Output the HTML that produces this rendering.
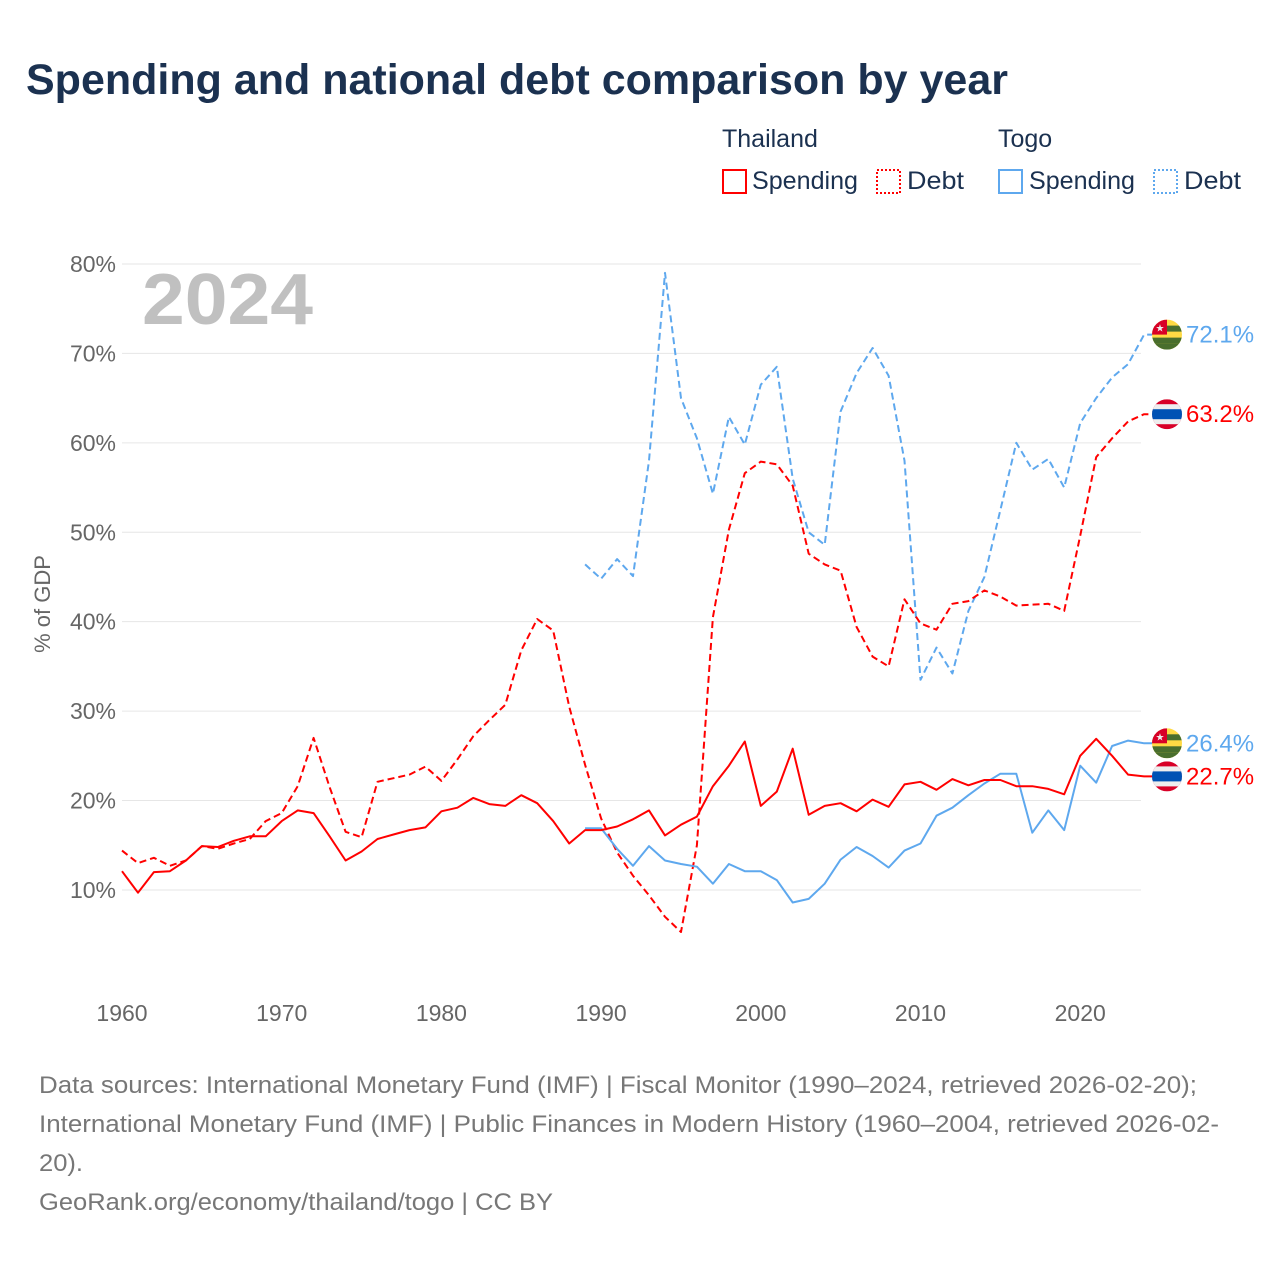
<!DOCTYPE html>
<html><head><meta charset="utf-8">
<style>
body{margin:0;background:#fff;font-family:"Liberation Sans",sans-serif;}
svg text{font-family:"Liberation Sans",sans-serif;}
</style></head>
<body>
<svg width="1280" height="1280" viewBox="0 0 1280 1280" xmlns="http://www.w3.org/2000/svg">
<text x="26" y="94" font-size="43" font-weight="bold" fill="#1b3150" textLength="982" lengthAdjust="spacingAndGlyphs">Spending and national debt comparison by year</text>
<g font-size="25" fill="#1b3150">
 <text x="722" y="147">Thailand</text>
 <text x="998" y="147">Togo</text>
 <g><rect x="723" y="170" width="23" height="23" fill="none" stroke="#ff0000" stroke-width="2"/><text x="752" y="189" textLength="106" lengthAdjust="spacingAndGlyphs">Spending</text></g>
 <g><rect x="877" y="170" width="23" height="23" fill="none" stroke="#ff0000" stroke-width="2" stroke-dasharray="2,2"/><text x="907" y="189" textLength="57" lengthAdjust="spacingAndGlyphs">Debt</text></g>
 <g><rect x="999" y="170" width="23" height="23" fill="none" stroke="#5ea8ee" stroke-width="2"/><text x="1029" y="189" textLength="106" lengthAdjust="spacingAndGlyphs">Spending</text></g>
 <g><rect x="1154" y="170" width="23" height="23" fill="none" stroke="#5ea8ee" stroke-width="2" stroke-dasharray="2,2"/><text x="1184" y="189" textLength="57" lengthAdjust="spacingAndGlyphs">Debt</text></g>
</g>
<text x="142" y="324" font-size="72" font-weight="bold" fill="#c0c0c0" textLength="171" lengthAdjust="spacingAndGlyphs">2024</text>
<text transform="translate(50,604) rotate(-90)" text-anchor="middle" font-size="22" fill="#666">% of GDP</text>
<g id="grid"></g><g id="xticks"></g><g id="series"></g><g id="ends"></g>
<g font-size="24" fill="#777">
<text x="39" y="1093" textLength="1158" lengthAdjust="spacingAndGlyphs">Data sources: International Monetary Fund (IMF) | Fiscal Monitor (1990–2024, retrieved 2026-02-20);</text>
<text x="39" y="1132" textLength="1180" lengthAdjust="spacingAndGlyphs">International Monetary Fund (IMF) | Public Finances in Modern History (1960–2004, retrieved 2026-02-</text>
<text x="39" y="1171" textLength="44" lengthAdjust="spacingAndGlyphs">20).</text>
<text x="39" y="1210" textLength="514" lengthAdjust="spacingAndGlyphs">GeoRank.org/economy/thailand/togo | CC BY</text>
</g>
</svg>
<script>
const yTicks=[10,20,30,40,50,60,70,80];
const xTicks=[1960,1970,1980,1990,2000,2010,2020];
const thSpendStart=1960;
const thSpending=[12.1,9.7,12,12.1,13.3,14.9,14.8,15.5,16,16,17.7,18.9,18.6,16,13.3,14.3,15.7,16.2,16.7,17,18.8,19.2,20.3,19.6,19.4,20.6,19.7,17.7,15.2,16.7,16.7,17.1,17.9,18.9,16.1,17.3,18.2,21.6,23.9,26.6,19.4,21,25.8,18.4,19.4,19.7,18.8,20.1,19.3,21.8,22.1,21.2,22.4,21.7,22.3,22.3,21.6,21.6,21.3,20.7,25,26.9,25,22.9,22.7];
const thDebt=[14.4,13,13.6,12.7,13.3,14.9,14.6,15.2,15.7,17.7,18.6,21.6,27,21.5,16.5,15.9,22.1,22.5,22.9,23.8,22.2,24.6,27.2,29,30.7,36.8,40.3,39,30.5,24,18,14.2,11.6,9.4,7,5.3,15,40.5,50.3,56.6,57.9,57.6,55.2,47.6,46.4,45.7,39.4,36.1,35,42.5,39.8,39.1,42,42.3,43.5,42.8,41.8,41.9,42,41.2,49.6,58.4,60.5,62.4,63.2];
const tgStart=1989;
const tgSpending=[16.9,16.9,14.6,12.7,14.9,13.3,12.9,12.6,10.7,12.9,12.1,12.1,11.1,8.6,9,10.7,13.4,14.8,13.8,12.5,14.4,15.2,18.3,19.2,20.6,21.9,23,23,16.4,18.9,16.7,23.9,22,26.1,26.7,26.4];
const tgDebt=[46.4,44.8,47,45.1,58,79,65,60.5,54.3,62.9,59.8,66.5,68.5,56,50,48.6,63.5,67.8,70.6,67.5,58,33.5,37.1,34.2,41.2,45,52.5,60,57,58.2,55,62.2,65,67.3,68.8,72.1];
const NS="http://www.w3.org/2000/svg";
const X=y=>122+(y-1960)*15.97;
const Y=v=>979.4-v*8.943;
function mk(t,a,p){const e=document.createElementNS(NS,t);for(const k in a)e.setAttribute(k,a[k]);p.appendChild(e);return e;}
const grid=document.getElementById('grid');
yTicks.forEach(v=>{
 const l=mk('line',{x1:122,x2:1141,y1:Y(v),y2:Y(v),stroke:'#e6e6e6','stroke-width':1},grid);
 
 
 const t=mk('text',{x:116,y:Y(v)+8,'text-anchor':'end','font-size':23,fill:'#666'},grid);
 t.textContent=v+'%';
 
 
});
const xg=document.getElementById('xticks');
xTicks.forEach(v=>{
 const t=mk('text',{x:X(v),y:1021,'text-anchor':'middle','font-size':23,fill:'#666'},xg);
 t.textContent=v;
 
 
});
const sg=document.getElementById('series');
function line(arr,start,color,dash,name){
 let d=arr.map((v,i)=>(i?'L':'M')+X(start+i).toFixed(1)+','+Y(v).toFixed(1)).join('');
 const last=arr[arr.length-1];
 d+='L1152,'+Y(last).toFixed(1);
 const p=mk('path',{d:d,fill:'none',stroke:color,'stroke-width':2,'stroke-linejoin':'round'},sg);
 if(dash)p.setAttribute('stroke-dasharray','7,4');
 
 
}
line(tgDebt,tgStart,'#5ea8ee',true,'togo-debt-line');
line(thDebt,thSpendStart,'#ff0000',true,'thailand-debt-line');
line(tgSpending,tgStart,'#5ea8ee',false,'togo-spending-line');
line(thSpending,thSpendStart,'#ff0000',false,'thailand-spending-line');
const eg=document.getElementById('ends');
function flag(cy,country,clip){
 const g=mk('g',{},eg);
 
 
 const cp=mk('clipPath',{id:clip},g);mk('circle',{cx:1167,cy:cy,r:15},cp);
 const f=mk('g',{'clip-path':'url(#'+clip+')'},g);
 if(country==='thailand'){
  mk('rect',{x:1152,y:cy-15,width:30,height:30,fill:'#d80027'},f);
  mk('rect',{x:1152,y:cy-10,width:30,height:20,fill:'#eee'},f);
  mk('rect',{x:1152,y:cy-5,width:30,height:10,fill:'#0052b4'},f);
 }else{
  mk('rect',{x:1152,y:cy-15,width:30,height:30,fill:'#ffda44'},f);
  mk('rect',{x:1152,y:cy-9,width:30,height:6,fill:'#496e2d'},f);
  mk('rect',{x:1152,y:cy+3,width:30,height:6,fill:'#496e2d'},f);
  mk('rect',{x:1152,y:cy+9,width:30,height:6,fill:'#496e2d'},f);
  mk('rect',{x:1152,y:cy-15,width:15,height:15,fill:'#d80027'},f);
  const s=mk('text',{x:1160,y:cy-3,'font-size':10,fill:'#eee','text-anchor':'middle'},f);s.textContent='★';
 }
}
function endLabel(v,country,color,name,clip){
 const cy=Y(v);
 flag(cy,country,clip);
 const t=mk('text',{x:1186,y:cy+8,'font-size':24,fill:color},eg);
 t.textContent=v.toFixed(1)+'%';
 
 
}
endLabel(tgDebt[tgDebt.length-1],'togo','#5ea8ee','togo-debt-end-label','c1');
endLabel(thDebt[thDebt.length-1],'thailand','#ff0000','thailand-debt-end-label','c2');
endLabel(tgSpending[tgSpending.length-1],'togo','#5ea8ee','togo-spending-end-label','c3');
endLabel(thSpending[thSpending.length-1],'thailand','#ff0000','thailand-spending-end-label','c4');
</script>
</body></html>
